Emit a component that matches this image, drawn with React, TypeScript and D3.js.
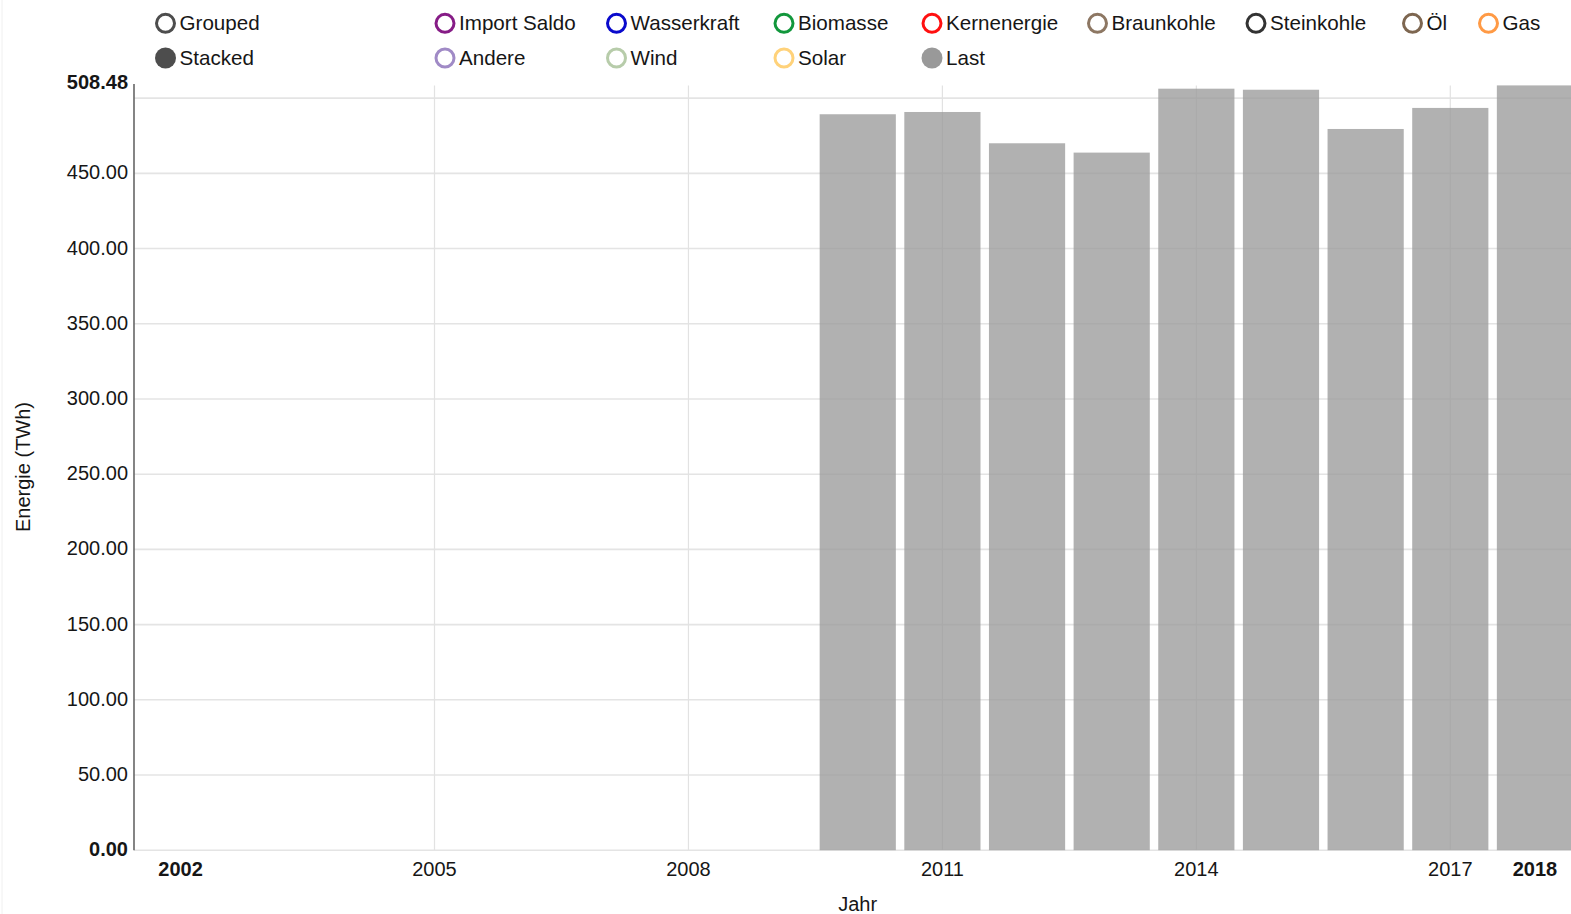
import React from "react";
import * as d3 from "d3";

// ---- data ----
const years = [2002, 2003, 2004, 2005, 2006, 2007, 2008, 2009, 2010, 2011, 2012, 2013, 2014, 2015, 2016, 2017, 2018];
const lastYears = [2010, 2011, 2012, 2013, 2014, 2015, 2016, 2017, 2018];
const lastValues = [489.3, 490.8, 470.0, 463.8, 506.3, 505.6, 479.5, 493.5, 508.48];
const xTickYears = [2005, 2008, 2011, 2014, 2017];
const xEdgeYears = [2002, 2018];
const yTicks = [0, 50, 100, 150, 200, 250, 300, 350, 400, 450, 500];
const yMax = 508.48;

const legendRow1 = ["Grouped", "Import Saldo", "Wasserkraft", "Biomasse", "Kernenergie", "Braunkohle", "Steinkohle", "Öl", "Gas"];
const legendRow2 = ["Stacked", "Andere", "Wind", "Solar", "Last"];
const legendColors1 = ["#4d4d4d", "#861c86", "#0a0acc", "#12973c", "#ff1010", "#8d7763", "#333333", "#7d6650", "#ff9a45"];
const legendColors2 = ["#4d4d4d", "#a08ac6", "#b7ccaa", "#ffd27a", "#999999"];
const legendFilled2 = [true, false, false, false, true];

// ---- layout ----
const W = 1571;
const H = 914;
const legendX = [165.5, 445, 616.5, 784, 932, 1097.5, 1256, 1412.5, 1488.5];
const legendY = [23.3, 58];
const FONT = "'Liberation Sans', Arial, sans-serif";
const TEXT = "#161616";

export default function App() {
  const x = d3
    .scaleBand<number>()
    .domain(years)
    .range([134, 1581.5])
    .paddingInner(0.1)
    .paddingOuter(0.1);
  const y = d3.scaleLinear().domain([0, yMax]).range([850.2, 85.4]);
  const cx = (yr: number) => (x(yr) as number) + x.bandwidth() / 2;

  return (
    <svg
      width={W}
      height={H}
      style={{ position: "absolute", left: 0, top: 0, display: "block", background: "#fff" }}
      fontFamily={FONT}
    >
      <line x1={2} x2={2} y1={0} y2={H} stroke="#f0f0f0" strokeWidth={1} />

      {/* legend */}
      {legendRow1.map((name, i) => (
        <g key={"l1" + name}>
          <circle cx={legendX[i]} cy={legendY[0]} r={9} fill="none" stroke={legendColors1[i]} strokeWidth={3} />
          <text x={legendX[i] + 14} y={legendY[0] + 7} fontSize={20.6} fill={TEXT}>
            {name}
          </text>
        </g>
      ))}
      {legendRow2.map((name, i) => (
        <g key={"l2" + name}>
          <circle
            cx={legendX[i]}
            cy={legendY[1]}
            r={legendFilled2[i] ? 10.5 : 9}
            fill={legendFilled2[i] ? legendColors2[i] : "none"}
            stroke={legendFilled2[i] ? "none" : legendColors2[i]}
            strokeWidth={3}
          />
          <text x={legendX[i] + 14} y={legendY[1] + 7} fontSize={20.6} fill={TEXT}>
            {name}
          </text>
        </g>
      ))}

      {/* horizontal grid */}
      {yTicks.map((t) => (
        <line key={"hg" + t} x1={134} x2={W} y1={y(t)} y2={y(t)} stroke="#e4e4e4" strokeWidth={1.6} />
      ))}
      {/* vertical grid */}
      {xTickYears.map((yr) => (
        <line key={"vg" + yr} x1={cx(yr)} x2={cx(yr)} y1={y(yMax)} y2={y(0)} stroke="#e2e2e2" strokeWidth={1.2} />
      ))}

      {/* bars */}
      {lastYears.map((yr, i) => (
        <rect
          key={"b" + yr}
          x={x(yr)}
          y={y(lastValues[i])}
          width={x.bandwidth()}
          height={y(0) - y(lastValues[i])}
          fill="#999999"
          fillOpacity={0.77}
        />
      ))}

      {/* y axis */}
      <line x1={134} x2={134} y1={84} y2={y(0)} stroke="#666" strokeWidth={1.6} />
      {yTicks
        .filter((t) => t < 500)
        .map((t) => (
          <text
            key={"yl" + t}
            x={128}
            y={y(t)}
            dy="0.3em"
            textAnchor="end"
            fontSize={20}
            fontWeight={t === 0 ? "bold" : "normal"}
            fill={TEXT}
          >
            {t.toFixed(2)}
          </text>
        ))}
      <text x={128} y={y(yMax) - 2} dy="0.3em" textAnchor="end" fontSize={20} fontWeight="bold" fill={TEXT}>
        {yMax.toFixed(2)}
      </text>

      {/* x axis labels */}
      {xTickYears.map((yr) => (
        <text key={"xl" + yr} x={cx(yr)} y={876} textAnchor="middle" fontSize={20} fill={TEXT}>
          {yr}
        </text>
      ))}
      {xEdgeYears.map((yr) => (
        <text key={"xe" + yr} x={cx(yr)} y={876} textAnchor="middle" fontSize={20} fontWeight="bold" fill={TEXT}>
          {yr}
        </text>
      ))}

      {/* axis titles */}
      <text transform="translate(29.5,467) rotate(-90)" textAnchor="middle" fontSize={20} fill={TEXT}>
        Energie (TWh)
      </text>
      <text x={857.7} y={911} textAnchor="middle" fontSize={20} fill={TEXT}>
        Jahr
      </text>
    </svg>
  );
}
